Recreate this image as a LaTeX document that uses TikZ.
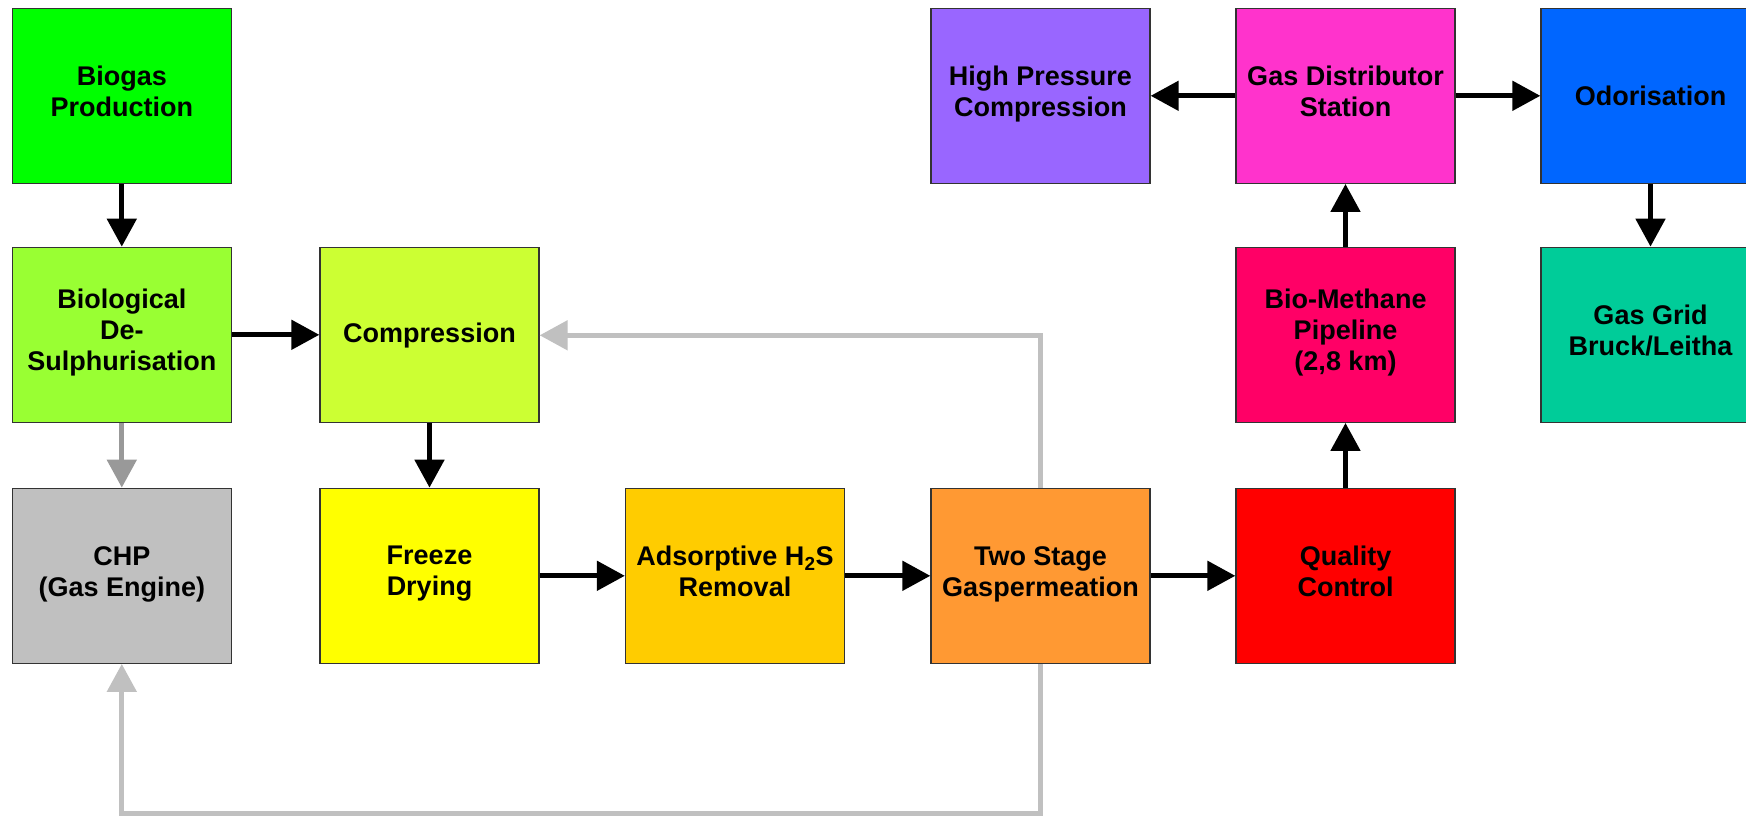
\documentclass[tikz,border=0pt]{standalone}
\usepackage{fontspec}
\setmainfont{Liberation Sans}
\usetikzlibrary{arrows.meta}
\definecolor{cBiogas}{HTML}{00FF00}
\definecolor{cBiol}{HTML}{99FF33}
\definecolor{cComp}{HTML}{CCFF33}
\definecolor{cCHP}{HTML}{C0C0C0}
\definecolor{cFreeze}{HTML}{FFFF00}
\definecolor{cAds}{HTML}{FFCC00}
\definecolor{cTwo}{HTML}{FF9933}
\definecolor{cQual}{HTML}{FF0000}
\definecolor{cPipe}{HTML}{FF0066}
\definecolor{cDist}{HTML}{FF33CC}
\definecolor{cHigh}{HTML}{9966FF}
\definecolor{cOdor}{HTML}{0066FF}
\definecolor{cGrid}{HTML}{00CC99}
\definecolor{midgray}{HTML}{999999}
\definecolor{lightgray}{HTML}{C0C0C0}
\definecolor{edge}{HTML}{333333}
\tikzset{
  procbox/.style={draw=edge, line width=1.3pt, minimum width=219pt, minimum height=175pt,
    inner sep=0pt, align=center, font=\fontsize{27}{31}\selectfont\bfseries},
  multi/.style={procbox, execute at begin node=\strut, execute at end node=\strut},
  flow/.style={line width=5pt, -{Triangle[length=28pt,width=29pt]}},
  blackflow/.style={flow, draw=black, fill=black},
  midflow/.style={flow, draw=midgray},
  lightflow/.style={flow, draw=lightgray},
}
\begin{document}
\begin{tikzpicture}[x=1pt,y=-1pt]
\useasboundingbox (0,0) rectangle (1746,816);
\clip (0,0) rectangle (1746,816);
\fill[white] (0,0) rectangle (1746,816);
% nodes
\node[multi, fill=cBiogas] (biogas) at (121.8,95.8) {Biogas\\Production};
\node[multi, fill=cBiol] (biol) at (121.8,334.8) {Biological\\De-\\Sulphurisation};
\node[multi, fill=cCHP] (chp) at (121.8,575.8) {CHP\\(Gas Engine)};
\node[procbox, fill=cComp] (comp) at (429.5,335.3) {Compression};
\node[multi, fill=cFreeze] (freeze) at (429.5,575.8) {Freeze\\Drying};
\node[multi, fill=cAds] (ads) at (735,575.8) {Adsorptive H\textsubscript{2}S\\Removal};
\node[multi, fill=cTwo] (two) at (1040.5,575.8) {Two Stage\\Gaspermeation};
\node[multi, fill=cHigh] (high) at (1040.5,95.8) {High Pressure\\Compression};
\node[multi, fill=cQual] (qual) at (1345.5,575.8) {Quality\\Control};
\node[multi, fill=cPipe] (pipe) at (1345.5,334.8) {Bio-Methane\\Pipeline\\(2,8 km)};
\node[multi, fill=cDist] (dist) at (1345.5,95.8) {Gas Distributor\\Station};
\node[procbox, fill=cOdor] (odor) at (1650.5,95.8) {Odorisation};
\node[multi, fill=cGrid] (grid) at (1650.5,334.8) {Gas Grid\\Bruck/Leitha};
\coordinate (bottomline) at (0,813.5);
% gray return lines
\draw[lightflow] (two.north) -- (two.north |- comp.east) -- (comp.east);
\draw[lightflow] (two.south) -- (two.south |- bottomline) -- (chp.south |- bottomline) -- (chp.south);
\draw[midflow] (biol.south) -- (chp.north);
% black flow
\draw[blackflow] (biogas.south) -- (biol.north);
\draw[blackflow] (biol.east) -- (comp.west |- biol.east);
\draw[blackflow] (comp.south) -- (freeze.north);
\draw[blackflow] (freeze.east) -- (ads.west);
\draw[blackflow] (ads.east) -- (two.west);
\draw[blackflow] (two.east) -- (qual.west);
\draw[blackflow] (qual.north) -- (pipe.south);
\draw[blackflow] (pipe.north) -- (dist.south);
\draw[blackflow] (dist.west) -- (high.east);
\draw[blackflow] (dist.east) -- (odor.west);
\draw[blackflow] (odor.south) -- (grid.north);
\end{tikzpicture}
\end{document}
